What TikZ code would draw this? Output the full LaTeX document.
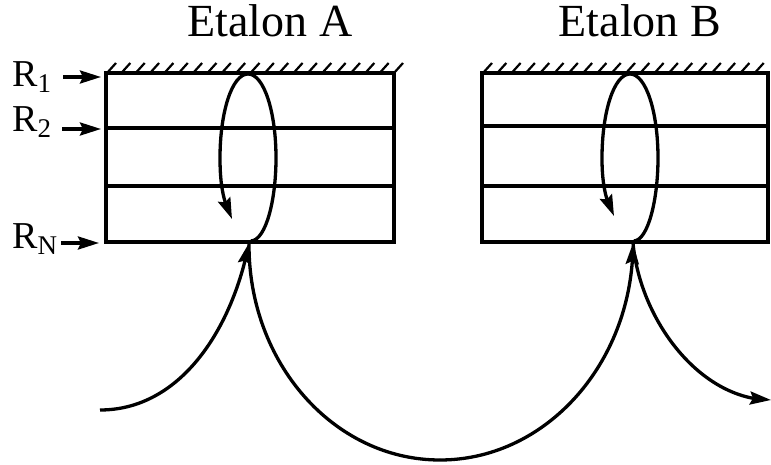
\documentclass[tikz,border=0pt]{standalone}
\usepackage{fontspec}
\setmainfont{Liberation Serif}
\usetikzlibrary{arrows.meta,bending}
\newcommand\mysub[1]{\raisebox{-6pt}{\fontsize{27}{27}\selectfont #1}}
\begin{document}
\begin{tikzpicture}[x=1pt,y=-1pt,
  boxline/.style={line width=3.3pt},
  hatchline/.style={line width=2.2pt},
  arr/.style={line width=3.3pt,-{Stealth[length=21pt,width=13pt,inset=3pt]}},
  title/.style={font=\fontsize{46}{46}\selectfont, anchor=base, inner sep=0pt},
  rlab/.style={font=\fontsize{38}{38}\selectfont, anchor=base west, inner sep=0pt}]
\useasboundingbox (0,0) rectangle (771,465);

% titles
\node[title] (ta) at (270,37) {Etalon A};
\node[title] (tb) at (640,37) {Etalon B};

% etalon A
\draw[boxline] (106,73) rectangle (394,242);
\draw[boxline] (106,128) -- (394,128);
\draw[boxline] (106,186) -- (394,186);
\foreach \i in {0,...,20} \draw[hatchline] ({107+14.35*\i},73) -- ++(9,-10);

% etalon B
\draw[boxline] (482,73) rectangle (768,242);
\draw[boxline] (482,126) -- (768,126);
\draw[boxline] (482,186) -- (768,186);
\foreach \i in {0,...,19} \draw[hatchline] ({483+14.3*\i},73) -- ++(9,-10);

% labels
\node[rlab] (r1) at (12,87) {R\mysub{1}};
\node[rlab] (r2) at (12,132) {R\mysub{2}};
\node[rlab] (rn) at (12,248) {R\mysub{N}};
\coordinate (r1s) at (63,77);  \coordinate (r1t) at (101,77);
\coordinate (r2s) at (62,129); \coordinate (r2t) at (101,129);
\coordinate (rns) at (61,243); \coordinate (rnt) at (99,243);
\draw[arr] (r1s) -- (r1t);
\draw[arr] (r2s) -- (r2t);
\draw[arr] (rns) -- (rnt);

% beam path
\coordinate (inA) at (100,410);
\coordinate (pA) at (249,243);
\coordinate (pB) at (633,243);
\coordinate (outB) at (771,400);
\coordinate (bot) at (440,460);
\coordinate (lA) at (251,241);
\coordinate (lAend) at (232,219);
\coordinate (lB) at (634,241);
\coordinate (lBend) at (614,216);

\draw[arr] (inA) .. controls (180,410) and (232,330) .. (pA);
\draw[line width=3.3pt] (pA) .. controls (248,363) and (334,460) .. (bot);
\draw[arr] (bot) .. controls (546,460) and (633,363) .. (pB);
\draw[arr] (pB) .. controls (640,320) and (700,400) .. (outB);

\draw[arr] (lA) .. controls (266,240) and (276,200) .. (276,158)
  .. controls (276,112) and (264,74) .. (248,74)
  .. controls (232,74) and (220,112) .. (220,158)
  .. controls (220,190) and (225,205) .. (lAend);
\draw[arr] (lB) .. controls (648,240) and (658,200) .. (658,158)
  .. controls (658,112) and (646,74) .. (630,74)
  .. controls (614,74) and (602,112) .. (602,158)
  .. controls (602,188) and (607,203) .. (lBend);
\end{tikzpicture}
\end{document}
